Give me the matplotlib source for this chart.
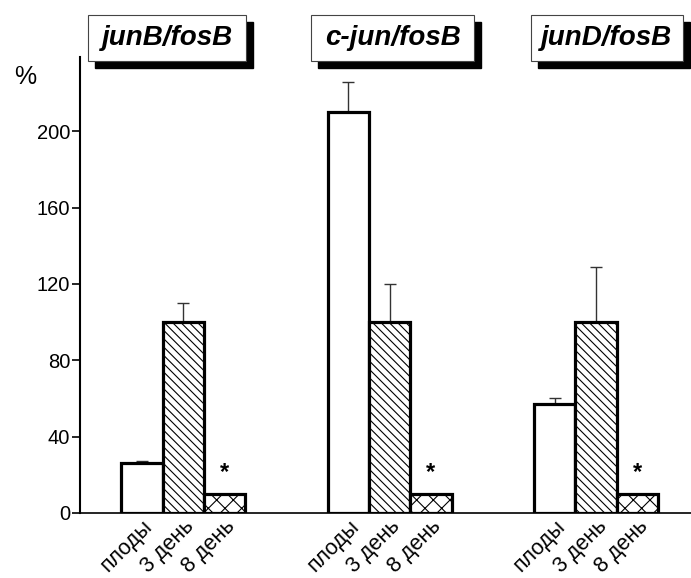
import matplotlib
matplotlib.use('Agg')
import matplotlib.pyplot as plt
from matplotlib.patches import Rectangle
import numpy as np

plt.rcParams['font.family'] = ['Liberation Sans', 'DejaVu Sans']
plt.rcParams['hatch.linewidth'] = 0.8

# data
groups = ['junB/fosB', 'c-jun/fosB', 'junD/fosB']
day_labels = ['плоды', '3 день', '8 день']
plody = [26, 210, 57]
plody_err = [1, 16, 3.5]
day3 = [100, 100, 100]
day3_err = [10, 20, 29]
day8 = [10, 10, 10]
yticks = [0, 40, 80, 120, 160, 200]

fig = plt.figure(figsize=(6.91, 5.78), dpi=100)
ax = fig.add_axes([0.1158, 0.1125, 0.8842, 0.789])

centers = np.arange(len(groups)) * 5
w = 1.0
bar_kw = dict(width=w, edgecolor='black', linewidth=2.3, zorder=3)

ax.bar(centers - 1, plody, color='white', **bar_kw)
ax.bar(centers, day3, color='white', hatch='\\\\\\\\', **bar_kw)
ax.bar(centers + 1, day8, color='white', hatch='xx', **bar_kw)

# upward-only error bars
ax.errorbar(centers - 1, plody, yerr=[np.zeros(3), plody_err], fmt='none',
            ecolor='#333333', elinewidth=1, capsize=4, capthick=1, zorder=2)
ax.errorbar(centers, day3, yerr=[np.zeros(3), day3_err], fmt='none',
            ecolor='#333333', elinewidth=1, capsize=4, capthick=1, zorder=2)

# significance marks
for c, v in zip(centers + 1, day8):
    ax.text(c, v + 11, '*', ha='center', va='center', fontsize=17,
            fontweight='bold')

ax.set_ylim(0, 239)
ax.set_xlim(-2.5, 12.3)
ax.set_yticks(yticks)
ax.set_yticklabels([str(t) for t in yticks], fontsize=14.5)
ax.tick_params(axis='y', length=6, width=1.2, pad=1)

pos = np.concatenate([centers - 1, centers, centers + 1])
labs = [day_labels[0]] * 3 + [day_labels[1]] * 3 + [day_labels[2]] * 3
ax.set_xticks(pos)
ax.set_xticklabels(labs, rotation=45, ha='right', va='top',
                   rotation_mode='anchor', fontsize=15.5)
ax.tick_params(axis='x', length=0, pad=2)

ax.spines['top'].set_visible(False)
ax.spines['right'].set_visible(False)
ax.spines['left'].set_linewidth(1.5)
ax.spines['bottom'].set_linewidth(1.2)

fig.text(0.036, 0.867, '%', ha='center', va='center', fontsize=18)

# title boxes with drop shadow
boxes = [(0.1274, 0.2287), (0.4501, 0.2359), (0.7685, 0.22)]
by, bh = 0.8945, 0.0796
dx, dy = 0.0101, 0.0121
for name, (bx, bw) in zip(groups, boxes):
    fig.patches.append(Rectangle((bx + dx, by - dy), bw, bh,
                                 transform=fig.transFigure,
                                 facecolor='black', edgecolor='black',
                                 zorder=1))
    fig.patches.append(Rectangle((bx, by), bw, bh,
                                 transform=fig.transFigure,
                                 facecolor='white', edgecolor='#444444',
                                 linewidth=0.8, zorder=2))
    fig.text(bx + bw / 2, by + bh / 2, name, ha='center', va='center',
             fontsize=20, fontweight='bold', fontstyle='italic', zorder=3)

fig.savefig('out.png', dpi=100)
